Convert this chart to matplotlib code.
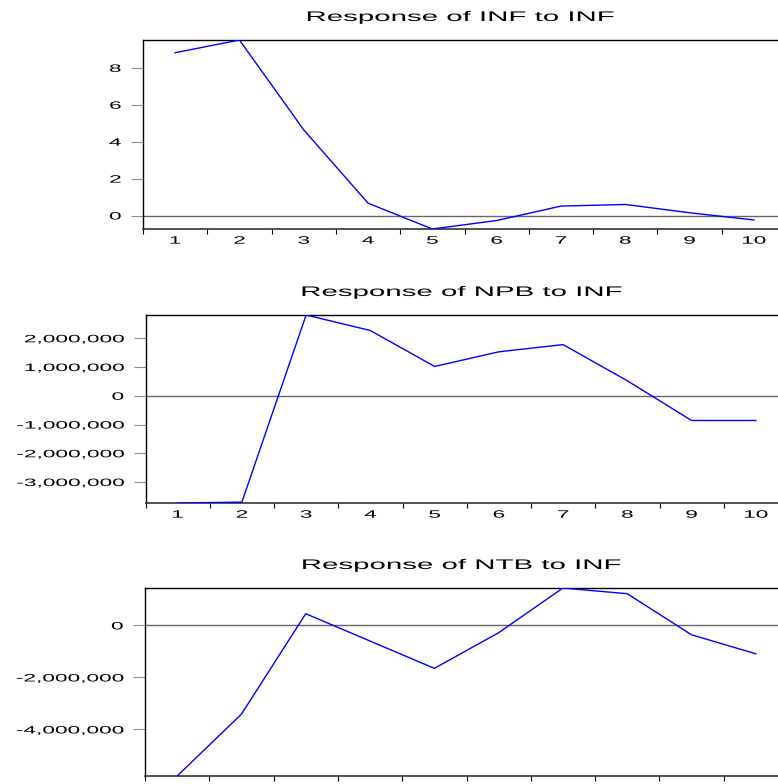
import matplotlib
matplotlib.use('Agg')
import matplotlib.pyplot as plt
import matplotlib.patheffects as pe
from matplotlib.transforms import Affine2D
from matplotlib.ticker import FixedLocator, FuncFormatter, NullFormatter, FixedFormatter
import numpy as np

# ---------------- data ----------------
periods = [1, 2, 3, 4, 5, 6, 7, 8, 9, 10]
inf_to_inf = [8.82, 9.51, 4.64, 0.67, -0.73, -0.27, 0.51, 0.60, 0.15, -0.24]
npb_to_inf = [-3730000, -3700000, 2810000, 2270000, 1020000,
              1530000, 1780000, 520000, -860000, -860000]
ntb_to_inf = [-5790000, -3410000, 450000, -600000, -1650000,
              -280000, 1440000, 1220000, -360000, -1090000]
titles = ["Response of INF to INF", "Response of NPB to INF", "Response of NTB to INF"]
yticks_inf = [0, 2, 4, 6, 8]
yticks_npb = [-3000000, -2000000, -1000000, 0, 1000000, 2000000]
yticks_ntb = [-4000000, -2000000, 0]
period_labels = [str(p) for p in periods]

plt.rcParams['font.family'] = ['Liberation Sans', 'DejaVu Sans']

STRETCH = 2.12


class HStretch(pe.AbstractPathEffect):
    """Stretch glyphs horizontally (wide EViews-like lettering)."""
    def __init__(self, sx, anchor='center'):
        super().__init__()
        self.sx = sx
        self.anchor = anchor

    def draw_path(self, renderer, gc, tpath, affine, rgbFace=None):
        ext = tpath.get_extents()
        if self.anchor == 'right':
            cx = ext.x1
        elif self.anchor == 'left':
            cx = ext.x0
        else:
            cx = 0.5 * (ext.x0 + ext.x1)
        tr = Affine2D().translate(-cx, 0).scale(self.sx, 1.0).translate(cx, 0) + affine
        renderer.draw_path(gc, tpath, tr, rgbFace)


W, H = 778, 784
fig = plt.figure(figsize=(W / 100, H / 100), dpi=100)

# axes rectangles in pixels: left, top, bottom, tick spacing
rects = [(143.0, 40.0, 229.0, 64.3),
         (145.5, 315.0, 503.0, 64.25),
         (145.0, 588.0, 776.0, 64.3)]

series = [inf_to_inf, npb_to_inf, ntb_to_inf]
yticks = [yticks_inf, yticks_npb, yticks_ntb]
fmts = [FuncFormatter(lambda v, p: f"{v:.0f}"),
        FuncFormatter(lambda v, p: f"{v:,.0f}"),
        FuncFormatter(lambda v, p: f"{v:,.0f}")]

for i in range(3):
    left, top, bottom, spacing = rects[i]
    ax = fig.add_axes([left / W, 1 - bottom / H, (W - left) / W, (bottom - top) / H])
    vals = series[i]
    ax.plot(periods, vals, color='#0000FF', lw=1.0, zorder=3)
    ax.axhline(0, color='#666666', lw=1.0, zorder=2)
    ax.set_xlim(0.5, 0.5 + (W - left) / spacing)
    ax.set_ylim(min(vals), max(vals))

    ax.spines['right'].set_visible(False)
    for s in ['left', 'top']:
        ax.spines[s].set_color('black')
        ax.spines[s].set_linewidth(1.0)
    ax.spines['bottom'].set_color('#333333')
    ax.spines['bottom'].set_linewidth(1.2)

    ax.xaxis.set_major_locator(FixedLocator(np.arange(0.5, 11.0, 1.0)))
    ax.xaxis.set_major_formatter(NullFormatter())
    ax.xaxis.set_minor_locator(FixedLocator(periods))
    ax.xaxis.set_minor_formatter(FixedFormatter(period_labels))
    ax.tick_params(axis='x', which='major', direction='out', length=3.6,
                   width=0.8, color='black')
    ax.tick_params(axis='x', which='minor', length=0, pad=4.8, labelsize=7.7)
    if i == 2:
        ax.tick_params(axis='x', which='minor', labelbottom=False)

    ax.yaxis.set_major_locator(FixedLocator(yticks[i]))
    ax.yaxis.set_major_formatter(fmts[i])
    ax.tick_params(axis='y', which='major', direction='out', length=8.6,
                   width=0.8, color='#8c8c8c', pad=7.2, labelsize=7.7)
    ax.tick_params(axis='y', which='minor', left=False)

    ax.set_title(titles[i], fontsize=10, pad=13.7,
                 path_effects=[HStretch(STRETCH, 'center')])

    for lbl in ax.get_yticklabels(which='major'):
        lbl.set_path_effects([HStretch(STRETCH, 'right')])
    for lbl in ax.get_xticklabels(minor=True):
        lbl.set_path_effects([HStretch(STRETCH, 'center')])

fig.savefig('out.png', dpi=100)
